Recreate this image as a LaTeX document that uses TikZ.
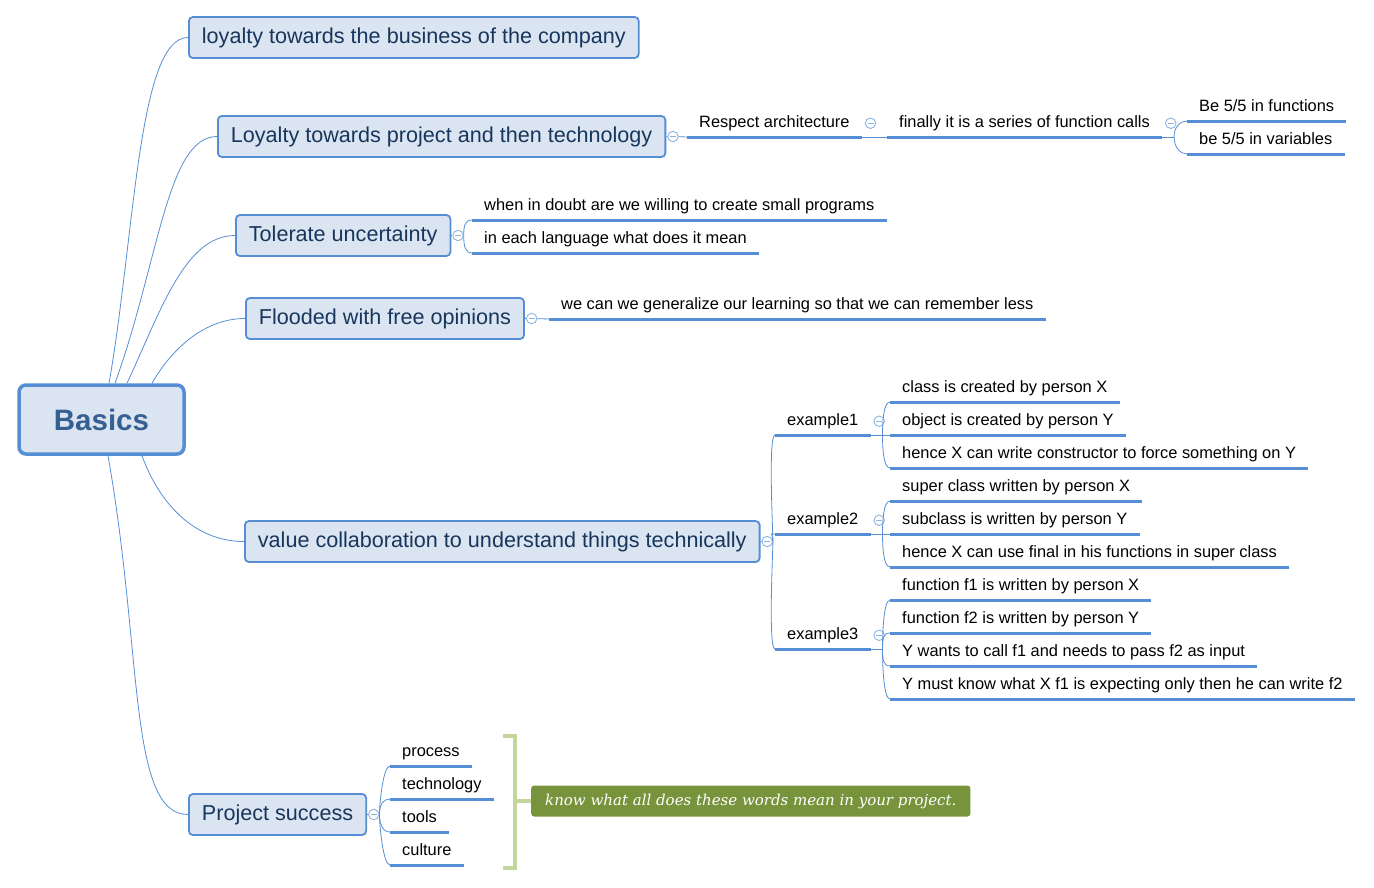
\documentclass[tikz,border=0pt]{standalone}
\usepackage{fontspec}
\setmainfont{Liberation Sans}
\newfontfamily\notefont{DejaVu Serif}
\usetikzlibrary{positioning}
\definecolor{boxfill}{HTML}{DBE5F1}
\definecolor{boxline}{HTML}{558ED5}
\definecolor{topictext}{HTML}{17365D}
\definecolor{roottext}{HTML}{366092}
\definecolor{wirecol}{HTML}{558ED5}
\definecolor{foldring}{HTML}{8EB4E3}
\definecolor{bracegreen}{HTML}{C3D69B}
\definecolor{notegreen}{HTML}{77933C}
\tikzset{
  rootbox/.style   = {draw=boxline,fill=boxfill,line width=3.5pt,rounded corners=7pt,
                      minimum width=165pt,minimum height=69pt,text=roottext,
                      font=\fontsize{29.5}{34}\selectfont\bfseries},
  topicbox/.style  = {draw=boxline,fill=boxfill,line width=1.8pt,rounded corners=4pt,
                      minimum height=41pt,inner xsep=13pt,anchor=west,text=topictext,
                      font=\fontsize{21.6}{25}\selectfont},
  leaf/.style      = {anchor=south west,inner xsep=12pt,inner ysep=5.8pt,text height=12pt,
                      text depth=3.5pt,font=\fontsize{16.4}{19}\selectfont},
  uline/.style     = {wirecol,line width=3pt},
  wire/.style      = {wirecol,line width=0.8pt},
  forkup/.style    = {out=90,in=180,out distance=10pt,in distance=7pt},
  forkdown/.style  = {out=-90,in=180,out distance=10pt,in distance=7pt},
  foldmark/.style  = {circle,draw=foldring,fill=white,line width=0.9pt,minimum size=10.5pt,inner sep=0pt,
                      path picture={\draw[foldring,line width=0.9pt]
                        ([xshift=-3pt]path picture bounding box.center) -- ([xshift=3pt]path picture bounding box.center);}},
  summarybrace/.style = {bracegreen,line width=3.5pt},
  notebox/.style   = {fill=notegreen,rounded corners=3pt,text=white,anchor=west,minimum height=31pt,
                      inner xsep=14pt,font=\notefont\itshape\fontsize{15}{18}\selectfont}
}

\begin{document}
\begin{tikzpicture}[x=1pt,y=-1pt]
  \useasboundingbox (0,0) rectangle (1374,887);

  % centre and main branches
  \node[rootbox]  (root) at (101.5,419.5) {Basics};
  \node[topicbox] (t1) at (188,37.5)  {loyalty towards the business of the company};
  \node[topicbox] (t2) at (217,136.5) {Loyalty towards project and then technology};
  \node[topicbox] (t3) at (235,235.5) {Tolerate uncertainty};
  \node[topicbox] (t4) at (245,318.5) {Flooded with free opinions};
  \node[topicbox] (t5) at (244,541.5) {value collaboration to understand things technically};
  \node[topicbox] (t6) at (188,814.5) {Project success};

  \draw[wire] ([xshift=7.5]root.north)  .. controls +(26,-148) and +(-50,0) .. (t1.west);
  \draw[wire] ([xshift=13.5]root.north) .. controls +(44,-122) and +(-50,0) .. (t2.west);
  \draw[wire] ([xshift=25.5]root.north) .. controls +(34,-73)  and +(-50,0) .. (t3.west);
  \draw[wire] ([xshift=50.5]root.north) .. controls +(20,-35)  and +(-40,0) .. (t4.west);
  \draw[wire] ([xshift=40.5]root.south) .. controls +(17,47)   and +(-50,0) .. (t5.west);
  \draw[wire] ([xshift=6.5]root.south)  .. controls +(35,197)  and +(-60,0) .. (t6.west);

  % Loyalty towards project
  \node[foldmark,right=1pt of t2] (f2) {};
  \node[leaf] (ra) at (687,137)  {Respect architecture};
  \node[leaf] (fc) at (887,137)  {finally it is a series of function calls};
  \node[leaf] (bf) at (1187,121) {Be 5/5 in functions};
  \node[leaf] (bv) at (1187,154) {be 5/5 in variables};
  \node[foldmark,right=3pt of ra] (fra) {};
  \node[foldmark,right=3pt of fc] (ffc) {};
  \draw[wire] (t2) -- (f2) -- (ra.south west);
  \draw[wire] (ra.south east) -- (fc.south west);
  \draw[wire] (fc.south east) -- ++(12,0) coordinate (fcx);
  \draw[wire] (fcx) to[forkup] (bf.south west);
  \draw[wire] (fcx) to[forkdown] (bv.south west);

  % Tolerate uncertainty
  \node[foldmark,right=1pt of t3] (f3) {};
  \node[leaf] (wd) at (472,220) {when in doubt are we willing to create small programs};
  \node[leaf] (ie) at (472,253) {in each language what does it mean};
  \draw[wire] (t3) -- (f3);
  \draw[wire] (f3.east) to[forkup] (wd.south west);
  \draw[wire] (f3.east) to[forkdown] (ie.south west);

  % Flooded with free opinions
  \node[foldmark,right=1pt of t4] (f4) {};
  \node[leaf] (wg) at (549,319) {we can we generalize our learning so that we can remember less};
  \draw[wire] (t4) -- (f4) -- (wg.south west);

  % value collaboration
  \node[foldmark,right=1pt of t5] (f5) {};
  \node[leaf] (ex1) at (775,435) {example1};
  \node[leaf] (ex2) at (775,534) {example2};
  \node[leaf] (ex3) at (775,649) {example3};
  \node[foldmark,right=3pt of ex1] (fx1) {};
  \node[foldmark,right=3pt of ex2] (fx2) {};
  \node[foldmark,right=3pt of ex3] (fx3) {};
  \draw[wire] (t5) -- (f5);
  \draw[wire] (f5.east) to[forkup] (ex1.south west);
  \draw[wire] (f5.east) to[forkup] (ex2.south west);
  \draw[wire] (f5.east) to[forkdown] (ex3.south west);

  \node[leaf] (c1) at (890,402) {class is created by person X};
  \node[leaf] (c2) at (890,435) {object is created by person Y};
  \node[leaf] (c3) at (890,468) {hence X can write constructor to force something on Y};
  \node[leaf] (s1) at (890,501) {super class written by person X};
  \node[leaf] (s2) at (890,534) {subclass is written by person Y};
  \node[leaf] (s3) at (890,567) {hence X can use final in his functions in super class};
  \node[leaf] (g1) at (890,600) {function f1 is written by person X};
  \node[leaf] (g2) at (890,633) {function f2 is written by person Y};
  \node[leaf] (g3) at (890,666) {Y wants to call f1 and needs to pass f2 as input};
  \node[leaf] (g4) at (890,699) {Y must know what X f1 is expecting only then he can write f2};

  \draw[wire] (ex1.south east) -- ++(12,0) coordinate (x1);
  \draw[wire] (x1) to[forkup] (c1.south west);
  \draw[wire] (x1) -- (c2.south west);
  \draw[wire] (x1) to[forkdown] (c3.south west);
  \draw[wire] (ex2.south east) -- ++(12,0) coordinate (x2);
  \draw[wire] (x2) to[forkup] (s1.south west);
  \draw[wire] (x2) -- (s2.south west);
  \draw[wire] (x2) to[forkdown] (s3.south west);
  \draw[wire] (ex3.south east) -- ++(12,0) coordinate (x3);
  \draw[wire] (x3) to[forkup] (g1.south west);
  \draw[wire] (x3) to[forkup] (g2.south west);
  \draw[wire] (x3) to[forkdown] (g3.south west);
  \draw[wire] (x3) to[forkdown] (g4.south west);

  % Project success
  \node[foldmark,right=1pt of t6] (f6) {};
  \node[leaf] (pr) at (390,766) {process};
  \node[leaf] (te) at (390,799) {technology};
  \node[leaf] (to) at (390,832) {tools};
  \node[leaf] (cu) at (390,865) {culture};
  \draw[wire] (t6) -- (f6);
  \draw[wire] (f6.east) to[forkup] (pr.south west);
  \draw[wire] (f6.east) to[forkup] (te.south west);
  \draw[wire] (f6.east) to[forkdown] (to.south west);
  \draw[wire] (f6.east) to[forkdown] (cu.south west);

  \foreach \n in {ra,fc,bf,bv,wd,ie,wg,ex1,ex2,ex3,c1,c2,c3,s1,s2,s3,g1,g2,g3,g4,pr,te,to,cu}
    \draw[uline] (\n.south west) -- (\n.south east);

  % summary
  \node[notebox] (note) at (531,801) {know what all does these words mean in your project.};
  \coordinate (bt) at (503,736);
  \coordinate (bb) at (503,868);
  \draw[summarybrace] (bt) -- ++(12,0) |- (bb);
  \draw[summarybrace] (515,801) coordinate (bm) -- (note.west);
\end{tikzpicture}
\end{document}
